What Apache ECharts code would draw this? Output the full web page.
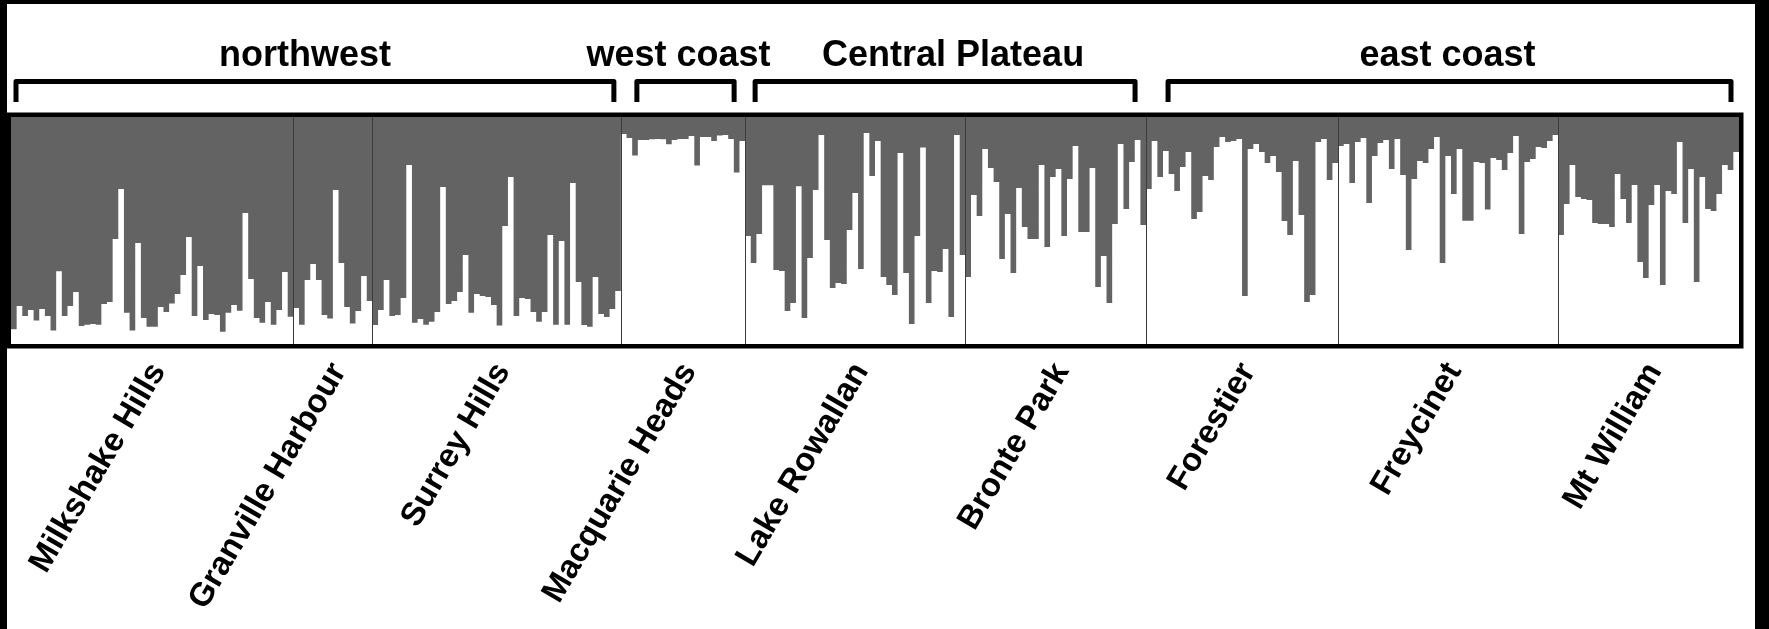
<!DOCTYPE html>
<html>
<head>
<meta charset="utf-8">
<script src="https://cdn.jsdelivr.net/npm/echarts@6/dist/echarts.min.js"></script>
<style>
html,body{margin:0;padding:0;background:#fff;}
#chart{width:1769px;height:629px;}
</style>
</head>
<body>
<div id="chart"></div>
<script>
// ---- Data: proportion of membership in the "white" (lower) cluster per individual ----
const populations = ["Milkshake Hills","Granville Harbour","Surrey Hills","Macquarie Heads","Lake Rowallan","Bronte Park","Forestier","Freycinet","Mt William"];

const milkshakeHills = [0.065,0.167,0.123,0.15,0.103,0.154,0.123,0.059,0.32,0.123,0.167,0.229,0.079,0.085,0.088,0.085,0.176,0.185,0.463,0.683,0.138,0.059,0.445,0.115,0.076,0.076,0.163,0.141,0.178,0.22,0.304,0.471,0.123,0.344,0.106,0.132,0.128,0.054,0.138,0.172,0.147,0.577,0.286,0.115,0.094,0.185,0.085,0.15,0.317,0.12];
const granvilleHarbour = [0.159,0.085,0.282,0.352,0.282,0.128,0.112,0.678,0.357,0.163,0.09,0.145,0.3,0.189];
const surreyHills = [0.084,0.15,0.282,0.123,0.128,0.203,0.789,0.094,0.11,0.085,0.098,0.141,0.692,0.176,0.189,0.229,0.392,0.138,0.22,0.211,0.207,0.172,0.081,0.52,0.736,0.123,0.203,0.198,0.141,0.098,0.141,0.48,0.085,0.454,0.085,0.709,0.273,0.084,0.076,0.295,0.132,0.119,0.154,0.233];
const macquarieHeads = [0.925,0.907,0.83,0.899,0.899,0.902,0.903,0.902,0.88,0.899,0.903,0.903,0.916,0.786,0.912,0.912,0.894,0.919,0.921,0.903,0.755,0.894];
const lakeRowallan = [0.476,0.357,0.485,0.699,0.699,0.326,0.322,0.145,0.181,0.695,0.115,0.379,0.678,0.921,0.458,0.247,0.269,0.264,0.502,0.665,0.33,0.93,0.74,0.894,0.295,0.26,0.216,0.841,0.313,0.088,0.476,0.866,0.181,0.322,0.317,0.419,0.119,0.921,0.392];
const brontePark = [0.295,0.656,0.564,0.859,0.775,0.714,0.374,0.573,0.313,0.687,0.515,0.463,0.463,0.789,0.427,0.736,0.771,0.476,0.727,0.872,0.493,0.493,0.775,0.251,0.388,0.181,0.529,0.881,0.595,0.802,0.899,0.524];
const forestier = [0.683,0.894,0.736,0.85,0.749,0.674,0.78,0.846,0.551,0.581,0.74,0.722,0.868,0.912,0.89,0.894,0.903,0.211,0.859,0.881,0.846,0.797,0.828,0.758,0.542,0.48,0.806,0.568,0.185,0.216,0.89,0.903,0.722,0.797];
const freycinet = [0.872,0.881,0.709,0.89,0.907,0.621,0.828,0.885,0.899,0.771,0.903,0.745,0.414,0.727,0.806,0.797,0.859,0.912,0.357,0.828,0.661,0.859,0.543,0.543,0.802,0.797,0.592,0.819,0.811,0.767,0.841,0.916,0.485,0.802,0.815,0.868,0.863,0.894,0.921];
const mtWilliam = [0.48,0.617,0.789,0.648,0.639,0.634,0.533,0.529,0.529,0.515,0.749,0.639,0.533,0.7,0.361,0.291,0.612,0.7,0.26,0.674,0.661,0.89,0.533,0.771,0.273,0.736,0.595,0.586,0.661,0.789,0.767,0.846];

const groupNames = ["northwest","west coast","Central Plateau","east coast"];
const groupPopulations = [[0,2],[3,3],[4,5],[6,8]]; // first and last population of each region

// ---- Layout / style constants ----
const GREY = '#636363';
const FONT = '"Liberation Sans", Arial, Helvetica, sans-serif';
const bracketInset = [[5,7],[16,11],[10,11],[22,8]];   // px inset of bracket legs from region edges
const groupLabelDx = [-10,-7,8,-2];                      // px nudge of region titles
const LABEL_ROT = 59.5 * Math.PI / 180;

// ---- Build series arrays ----
const perPopulation = [milkshakeHills,granvilleHarbour,surreyHills,macquarieHeads,lakeRowallan,brontePark,forestier,freycinet,mtWilliam];
const categories = [], whiteVals = [], greyVals = [], popStart = [], popEnd = [];
perPopulation.forEach((arr, p) => {
  popStart.push(categories.length);
  arr.forEach((v, j) => {
    categories.push(populations[p] + ' ' + (j + 1));
    whiteVals.push(v);
    greyVals.push(+(1 - v).toFixed(3));
  });
  popEnd.push(categories.length);
});
const N = categories.length;

function renderAnnotations(params, api) {
  if (params.dataIndex !== 0) return;
  const cs = params.coordSys;
  const bw = api.size([1, 0])[0];
  const edge = i => (i < N ? api.coord([i, 0])[0] - bw / 2 : api.coord([N - 1, 0])[0] + bw / 2);
  const top = cs.y, bottom = cs.y + cs.height;
  const children = [];
  // population dividers
  for (let p = 1; p < populations.length; p++) {
    const x = Math.round(edge(popStart[p])) + 0.5;
    children.push({type: 'line', shape: {x1: x, y1: top, x2: x, y2: bottom},
      style: {stroke: '#3c3c3c', lineWidth: 1}});
  }
  // frame
  children.push({type: 'rect', shape: {x: cs.x - 2.25, y: cs.y - 2.25, width: cs.width + 4.5, height: cs.height + 4.5},
    style: {stroke: '#000', lineWidth: 4.5, fill: null}});
  // region brackets and titles
  groupNames.forEach((name, g) => {
    const xL = edge(popStart[groupPopulations[g][0]]) + bracketInset[g][0];
    const xR = edge(popEnd[groupPopulations[g][1]]) - bracketInset[g][1];
    children.push({type: 'polyline', shape: {points: [[xL, top - 15], [xL, top - 35.5], [xR, top - 35.5], [xR, top - 15]]},
      style: {stroke: '#000', lineWidth: 5, fill: null, lineJoin: 'round'}});
    children.push({type: 'text', x: (xL + xR) / 2 + groupLabelDx[g], y: top - 60.5,
      style: {text: name, fill: '#000', font: 'bold 36px ' + FONT, align: 'center', verticalAlign: 'middle'}});
  });
  // population labels
  populations.forEach((name, p) => {
    const cx = (edge(popStart[p]) + edge(popEnd[p])) / 2;
    children.push({type: 'text', x: cx + 6, y: bottom + 22, rotation: LABEL_ROT,
      style: {text: name, fill: '#000', font: 'bold 33px ' + FONT, align: 'right', verticalAlign: 'middle'}});
  });
  return {type: 'group', children};
}

const chart = echarts.init(document.getElementById('chart'), null, {renderer: 'canvas'});
chart.setOption({
  animation: false,
  backgroundColor: '#fff',
  grid: {left: 11, right: 30, top: 117, bottom: 285, containLabel: false},
  xAxis: {type: 'category', data: categories, boundaryGap: true,
    axisLine: {show: false}, axisTick: {show: false}, axisLabel: {show: false}, splitLine: {show: false}},
  yAxis: {type: 'value', min: 0, max: 1, show: false, splitLine: {show: false}},
  graphic: [
    {type: 'rect', left: 0, top: 0, shape: {width: 1769, height: 4}, style: {fill: '#000'}, z: 100},
    {type: 'rect', left: 0, top: 0, shape: {width: 7, height: 629}, style: {fill: '#000'}, z: 100},
    {type: 'rect', left: 1755, top: 0, shape: {width: 14, height: 629}, style: {fill: '#000'}, z: 100}
  ],
  series: [
    {type: 'bar', name: 'cluster 2', stack: 'q', data: whiteVals, barCategoryGap: '0%', barGap: '0%',
      large: true, largeThreshold: 10, itemStyle: {color: '#fff'}, silent: true},
    {type: 'bar', name: 'cluster 1', stack: 'q', data: greyVals, barCategoryGap: '0%', barGap: '0%',
      large: true, largeThreshold: 10, itemStyle: {color: GREY}, silent: true},
    {type: 'custom', name: 'annotations', data: [[0, 0]], renderItem: renderAnnotations, silent: true, z: 10, clip: false}
  ]
});
</script>
</body>
</html>
